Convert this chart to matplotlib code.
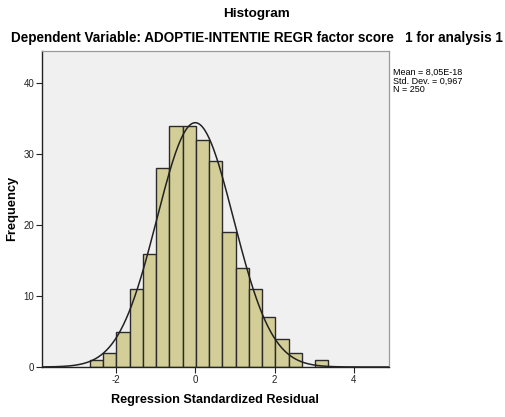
import numpy as np
import matplotlib
matplotlib.use("Agg")
import matplotlib.pyplot as plt

# Data
bin_start = -2.655
bin_width = 0.334
counts = [1, 2, 5, 11, 16, 28, 34, 34, 32, 29, 19, 14, 11, 7, 4, 2, 0, 1]
mean = 8.05e-18
std = 0.967
n = 250
x_ticks = [-2, 0, 2, 4]
y_ticks = [0, 10, 20, 30, 40]

plt.rcParams['font.family'] = ['Liberation Sans', 'DejaVu Sans']
plt.rcParams['axes.unicode_minus'] = False

fig = plt.figure(figsize=(5.06, 4.17), dpi=100)
ax = fig.add_axes([42/506, 1 - 367/417, (388.7-42)/506, (367-50.7)/417])
ax.set_facecolor('#f0f0f0')

edges = bin_start + bin_width * np.arange(len(counts) + 1)
lefts = edges[:-1]
heights = np.array(counts)
mask = heights > 0
ax.bar(lefts[mask], heights[mask], width=bin_width, align='edge',
       color='#d3ce97', edgecolor='#2b2b2b', linewidth=1.0, zorder=2)

xlim = (-3.865, 4.88)
xs = np.linspace(xlim[0], xlim[1], 500)
ys = n * bin_width / (std * np.sqrt(2 * np.pi)) * np.exp(-0.5 * ((xs - mean) / std) ** 2)
ax.plot(xs, ys, color='#222222', linewidth=1.1, zorder=3)

ax.set_xlim(*xlim)
ax.set_ylim(0, 44.6)
ax.set_xticks(x_ticks)
ax.set_yticks(y_ticks)
ax.tick_params(labelsize=7, length=4.5, width=0.8, colors='#222222', pad=1.0)

for s in ['top', 'right']:
    ax.spines[s].set_color('#9a9a9a')
    ax.spines[s].set_linewidth(0.9)
for s in ['left', 'bottom']:
    ax.spines[s].set_color('#222222')
    ax.spines[s].set_linewidth(1.0)

ax.set_xlabel('Regression Standardized Residual', fontsize=9.1, fontweight='bold', va='center')
ax.xaxis.set_label_coords(0.5, (367 - 400) / 316.3)
ax.set_ylabel('Frequency', fontsize=9.3, fontweight='bold', va='center')
ax.yaxis.set_label_coords((12 - 42) / 346.7, 0.5)

fig.text(257/506, 1 - 14/417, 'Histogram', ha='center', va='center', fontsize=9.7, fontweight='bold')
fig.text(256.5/506, 1 - 38/417, 'Dependent Variable: ADOPTIE-INTENTIE REGR factor score   1 for analysis 1',
         ha='center', va='center', fontsize=9.75, fontweight='bold')

fig.text(393/506, 1 - 81/417, 'Mean = 8,05E-18\nStd. Dev. = 0,967\nN = 250',
         ha='left', va='center', fontsize=6.5, linespacing=1.0)

fig.savefig('out.png', dpi=100, facecolor='white')
